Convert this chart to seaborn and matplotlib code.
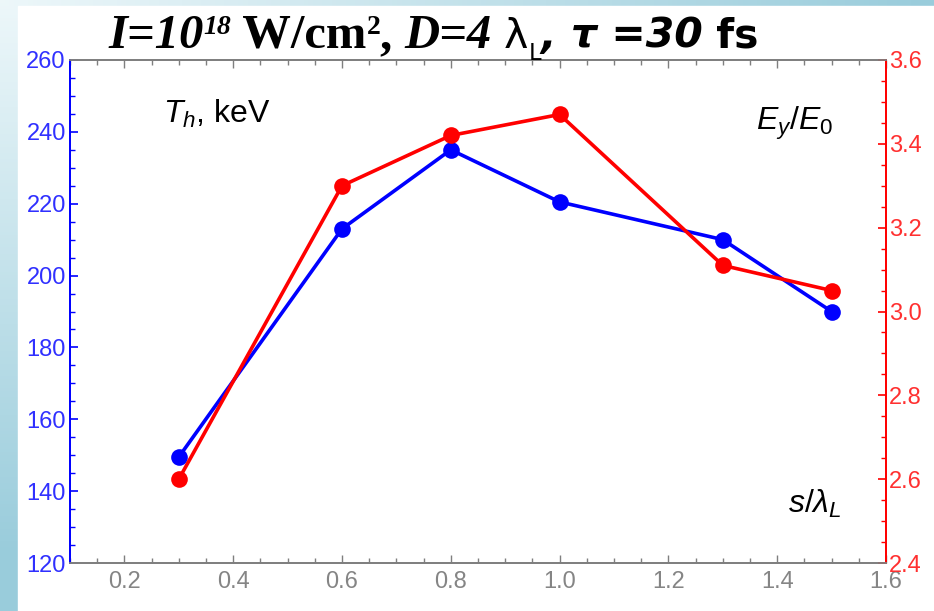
import numpy as np
import pandas as pd
import matplotlib
matplotlib.use("Agg")
import matplotlib.pyplot as plt
from matplotlib.patches import Rectangle
from matplotlib.ticker import MultipleLocator
import seaborn as sns

# ---- data ----
s_lambda = [0.3, 0.6, 0.8, 1.0, 1.3, 1.5]
Th_keV = [149.5, 213, 235, 220.5, 210, 190]
Ey_E0 = [2.60, 3.30, 3.42, 3.47, 3.11, 3.05]
left_ticks = [120, 140, 160, 180, 200, 220, 240, 260]
right_ticks = [2.4, 2.6, 2.8, 3.0, 3.2, 3.4, 3.6]
x_ticks = [0.2, 0.4, 0.6, 0.8, 1.0, 1.2, 1.4, 1.6]

sns.set_theme(style="white")
plt.rcParams['font.family'] = ['Liberation Sans', 'DejaVu Sans']
plt.rcParams['mathtext.fontset'] = 'custom'
plt.rcParams['mathtext.rm'] = 'Liberation Sans'
plt.rcParams['mathtext.it'] = 'Liberation Sans:italic'
plt.rcParams['mathtext.bf'] = 'Liberation Sans:bold'

W, H = 934, 611
fig = plt.figure(figsize=(W / 100, H / 100), dpi=100)

# background gradient frame
bg = fig.add_axes([0, 0, 1, 1], zorder=-10)
xx, yy = np.meshgrid(np.linspace(0, 1, 200), np.linspace(0, 1, 200))
t = np.clip(np.maximum(xx * 1.0, yy * 1.1), 0, 1)
light = np.array([0.93, 0.97, 0.98])
dark = np.array([0.60, 0.80, 0.86])
img = light[None, None, :] * (1 - t[..., None]) + dark[None, None, :] * t[..., None]
bg.imshow(img, extent=[0, 1, 0, 1], origin='upper', aspect='auto')
bg.add_patch(Rectangle((18 / W, 0), 1, 1 - 6 / H, color='white'))
bg.set_xlim(0, 1); bg.set_ylim(0, 1)
bg.axis('off')

ax = fig.add_axes([70 / W, 1 - 563 / H, (886 - 70) / W, (563 - 60) / H])
ax.set_facecolor('white')
ax2 = ax.twinx()

df = pd.DataFrame({'s': s_lambda, 'T': Th_keV, 'E': Ey_E0})
sns.lineplot(data=df, x='s', y='T', ax=ax, color='#0000ff', lw=2.6,
             marker='o', markersize=12, markeredgewidth=0, zorder=3)
sns.lineplot(data=df, x='s', y='E', ax=ax2, color='#ff0000', lw=2.6,
             marker='o', markersize=12, markeredgewidth=0, zorder=3)

ax.set_xlim(0.1, 1.6)
ax.set_ylim(120, 260)
ax2.set_ylim(2.4, 3.6)
ax.set_xlabel(''); ax.set_ylabel(''); ax2.set_ylabel('')

ax.set_xticks(x_ticks)
ax.set_xticklabels([f"{v:.1f}" for v in x_ticks])
ax.xaxis.set_minor_locator(MultipleLocator(0.05))
ax.set_yticks(left_ticks)
ax.yaxis.set_minor_locator(MultipleLocator(5))
ax2.set_yticks(right_ticks)
ax2.set_yticklabels([f"{v:.1f}" for v in right_ticks])
ax2.yaxis.set_minor_locator(MultipleLocator(0.05))

gray = '#7f7f7f'
blue = '#3030ff'
red = '#ff3030'
for a in (ax, ax2):
    a.grid(False)
    for sp in a.spines.values():
        sp.set_visible(True)
        sp.set_linewidth(1.3)
    a.spines['top'].set_color(gray)
    a.spines['bottom'].set_color(gray)
    a.spines['left'].set_color('#0000ff')
    a.spines['right'].set_color('#ff0000')

ax.tick_params(axis='x', which='both', direction='in', top=True, bottom=True,
               color=gray, labelcolor='#858585', labelsize=17, pad=6)
ax.tick_params(axis='x', which='major', length=6, width=1)
ax.tick_params(axis='x', which='minor', length=3.5, width=1)
ax.tick_params(axis='y', which='both', direction='in', left=True, right=False,
               color='#0000ff', labelcolor=blue, labelsize=17, pad=3)
ax.tick_params(axis='y', which='major', length=6, width=1.2)
ax.tick_params(axis='y', which='minor', length=3.5, width=1)
ax2.tick_params(axis='y', which='both', direction='in', right=True, left=False,
                color='#ff0000', labelcolor=red, labelsize=17, pad=2)
ax2.tick_params(axis='y', which='major', length=6, width=1.2)
ax2.tick_params(axis='y', which='minor', length=3.5, width=1)

# inside labels
ax.text(0.114, 0.875, r"$T_h$, keV", transform=ax.transAxes, fontsize=23,
        color='black', ha='left', va='baseline')
ax.text(0.935, 0.861, r"$E_y/E_0$", transform=ax.transAxes, fontsize=23,
        color='black', ha='right', va='baseline')
ax.text(0.945, 0.10, r"$s/\lambda_L$", transform=ax.transAxes, fontsize=23,
        color='black', ha='right', va='baseline')

# composite title
S = 35
SS = 29.5
SER = 'Liberation Serif'
SAN = 'DejaVu Sans'
pieces = [
    ("I=10", dict(family=SER, weight='bold', style='italic', size=S), 0),
    ("18", dict(family=SER, weight='bold', style='italic', size=S * 0.57), 14),
    (" W/cm", dict(family=SER, weight='bold', style='normal', size=S), 0),
    ("2", dict(family=SER, weight='bold', style='normal', size=S * 0.57), 14),
    (", ", dict(family=SER, weight='bold', style='normal', size=S), 0),
    ("D=4 ", dict(family=SER, weight='bold', style='italic', size=S), 0),
    ("λ", dict(family=SAN, weight='normal', style='normal', size=SS), 0),
    ("L", dict(family=SAN, weight='normal', style='normal', size=SS * 0.55), -12),
    (", ", dict(family=SAN, weight='bold', style='italic', size=SS), 0),
    ("τ =30", dict(family=SAN, weight='bold', style='italic', size=SS), 0),
    (" fs", dict(family=SAN, weight='bold', style='normal', size=SS), 0),
]
renderer = fig.canvas.get_renderer()
xpix = 108
base = H - 48
for txt, props, dy in pieces:
    tt = fig.text(xpix / W, (base + dy) / H, txt, ha='left', va='baseline',
                  color='black', **props)
    ext = tt.get_window_extent(renderer)
    xpix += ext.width

fig.savefig('out.png', dpi=100)
